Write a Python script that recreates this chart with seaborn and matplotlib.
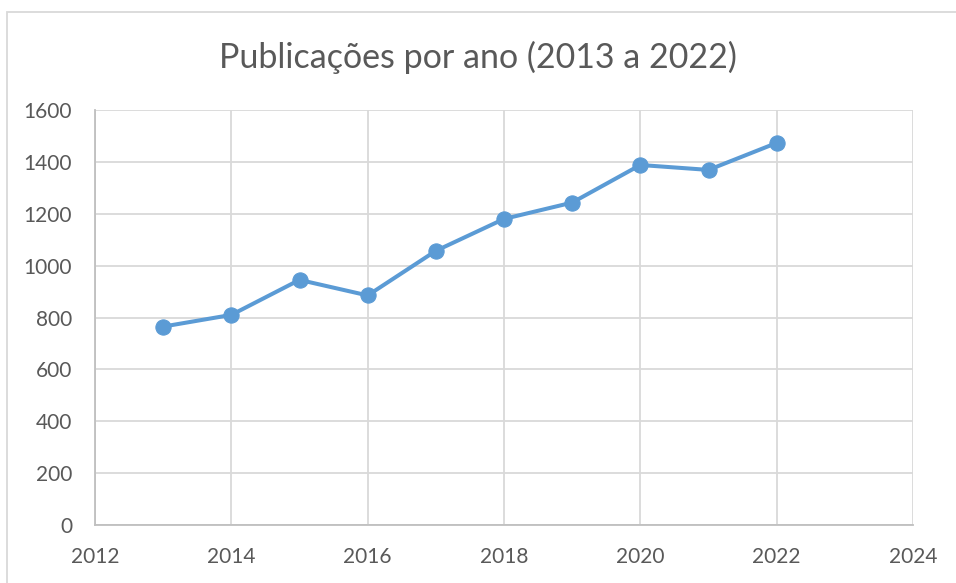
import seaborn as sns
import matplotlib.pyplot as plt
import pandas as pd
from matplotlib.patches import Rectangle

# Daten
anos = [2013, 2014, 2015, 2016, 2017, 2018, 2019, 2020, 2021, 2022]
publicacoes = [765, 810, 945, 885, 1057, 1180, 1243, 1388, 1369, 1473]
x_ticks = [2012, 2014, 2016, 2018, 2020, 2022, 2024]
y_ticks = [0, 200, 400, 600, 800, 1000, 1200, 1400, 1600]

df = pd.DataFrame({'Ano': anos, 'Publicações': publicacoes})

sns.set_style('white')
plt.rcParams['font.family'] = ['Lato', 'DejaVu Sans']

texto = '#595959'
grade = '#D9D9D9'
azul = '#5B9BD5'

fig = plt.figure(figsize=(9.56, 5.83), dpi=100)
ax = fig.add_axes([95 / 956, 1 - 525 / 583, (913 - 95) / 956, (525 - 110) / 583])

sns.lineplot(x='Ano', y='Publicações', data=df, ax=ax, color=azul, linewidth=2.9,
             marker='o', markersize=11, markeredgecolor=azul, zorder=3)

ax.set_xlim(2012, 2024)
ax.set_ylim(0, 1600)
ax.set_xticks(x_ticks)
ax.set_yticks(y_ticks)
ax.grid(True, color=grade, linewidth=1.3)
ax.set_axisbelow(True)
ax.set_xlabel('')
ax.set_ylabel('')

for lado in ['top', 'right']:
    ax.spines[lado].set_visible(False)
for lado in ['left', 'bottom']:
    ax.spines[lado].set_color('#BFBFBF')
    ax.spines[lado].set_linewidth(1.3)

ax.tick_params(axis='both', length=0, labelsize=15, colors=texto)
ax.tick_params(axis='y', pad=16.5)
ax.tick_params(axis='x', pad=16)

fig.text(0.5, 1 - 57 / 583, 'Publicações por ano (2013 a 2022)', ha='center', va='center',
         fontsize=24.5, color=texto)

# Rahmen des Diagrammbereichs (nur oben und links sichtbar)
fig.patches.append(Rectangle((6.5 / 956, -0.05), 1.1, 1.05 - 11.5 / 583,
                             transform=fig.transFigure, fill=False,
                             edgecolor='#D9D9D9', linewidth=1.3))

fig.savefig('out.png', dpi=100)
